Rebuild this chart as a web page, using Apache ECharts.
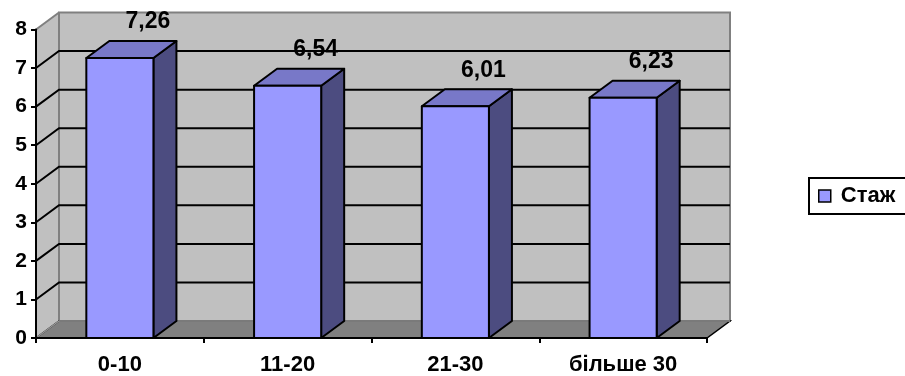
<!DOCTYPE html>
<html>
<head>
<meta charset="utf-8">
<script src="https://cdn.jsdelivr.net/npm/echarts@6/dist/echarts.min.js"></script>
<style>
  html, body { margin: 0; padding: 0; background: #ffffff; }
  #chart { width: 905px; height: 376px; }
</style>
</head>
<body>
<div id="chart"></div>
<script>
// Стаж роботи: групи та середні значення
const categories = ['0-10', '11-20', '21-30', 'більше 30'];
const stazh = [7.26, 6.54, 6.01, 6.23];
const valueLabels = ['7,26', '6,54', '6,01', '6,23'];
const yTicks = [0, 1, 2, 3, 4, 5, 6, 7, 8];
const seriesName = 'Стаж';

// depth of the 3D box (pixels to the right / up)
const DX = 23, DY = -17;
const FONT = '"Liberation Sans", Arial, sans-serif';

const chart = echarts.init(document.getElementById('chart'), null, { renderer: 'canvas' });

function renderWalls(params, api) {
  const cs = params.coordSys;
  const left = cs.x, right = cs.x + cs.width;
  const bottom = cs.y + cs.height, top = cs.y;
  const children = [];
  // left side wall
  children.push({
    type: 'polygon',
    shape: { points: [[left, top], [left + DX, top + DY], [left + DX, bottom + DY], [left, bottom]] },
    style: { fill: '#C0C0C0', stroke: null }
  });
  // back wall
  children.push({
    type: 'rect',
    shape: { x: left + DX, y: top + DY, width: cs.width, height: cs.height },
    style: { fill: '#C0C0C0', stroke: '#808080', lineWidth: 2 }
  });
  // floor
  children.push({
    type: 'polygon',
    shape: { points: [[left, bottom], [right, bottom], [right + DX, bottom + DY], [left + DX, bottom + DY]] },
    style: { fill: '#808080', stroke: '#000000', lineWidth: 1.5 }
  });
  // left wall top edge
  children.push({
    type: 'line',
    shape: { x1: left, y1: top, x2: left + DX, y2: top + DY },
    style: { stroke: '#808080', lineWidth: 2 }
  });
  // floor back and side edges
  children.push({
    type: 'line',
    shape: { x1: left + DX, y1: bottom + DY, x2: right + DX, y2: bottom + DY },
    style: { stroke: '#999999', lineWidth: 1.5 }
  });
  children.push({
    type: 'line',
    shape: { x1: left, y1: bottom, x2: left + DX, y2: bottom + DY },
    style: { stroke: '#999999', lineWidth: 1.5 }
  });
  // gridlines on the side and back walls
  yTicks.forEach(function (v) {
    if (v === yTicks[0] || v === yTicks[yTicks.length - 1]) return;
    const y = api.coord([0, v])[1];
    children.push({
      type: 'polyline',
      shape: { points: [[left, y], [left + DX, y + DY], [right + DX, y + DY]] },
      style: { stroke: '#000000', lineWidth: 2, fill: null }
    });
  });
  return { type: 'group', children: children };
}

function renderBar(params, api) {
  const idx = api.value(0);
  const v = api.value(1);
  const base = api.coord([idx, 0]);
  const topPt = api.coord([idx, v]);
  const bw = api.size([1, 0])[0] * 0.4;
  const x0 = topPt[0] - bw / 2, x1 = topPt[0] + bw / 2;
  const yt = topPt[1], yb = base[1];
  const line = { stroke: '#000000', lineWidth: 2, lineJoin: 'round' };
  return {
    type: 'group',
    children: [
      {
        type: 'polygon',
        shape: { points: [[x1, yt], [x1 + DX, yt + DY], [x1 + DX, yb + DY], [x1, yb]] },
        style: Object.assign({ fill: '#4C4C80' }, line)
      },
      {
        type: 'polygon',
        shape: { points: [[x0, yt], [x0 + DX, yt + DY], [x1 + DX, yt + DY], [x1, yt]] },
        style: Object.assign({ fill: '#7878C8' }, line)
      },
      {
        type: 'rect',
        shape: { x: x0, y: yt, width: bw, height: yb - yt },
        style: Object.assign({ fill: '#9999FF' }, line)
      },
      {
        type: 'text',
        style: {
          x: topPt[0] + DX + 5,
          y: yt + DY - 19,
          text: valueLabels[params.dataIndex],
          fill: '#000000',
          font: 'bold 23px ' + FONT,
          align: 'center',
          verticalAlign: 'middle'
        }
      }
    ]
  };
}

chart.setOption({
  animation: false,
  backgroundColor: '#ffffff',
  grid: { left: 36, right: 198, top: 29.5, bottom: 37, containLabel: false },
  legend: {
    data: [{ name: seriesName, icon: 'rect' }],
    left: 809,
    top: 178,
    orient: 'vertical',
    padding: [7, 40, 7, 9],
    borderColor: '#000000',
    borderWidth: 2,
    itemWidth: 12,
    itemHeight: 12,
    itemStyle: { color: '#9999FF', borderColor: '#000000', borderWidth: 1.5 },
    textStyle: { fontFamily: FONT, fontWeight: 'bold', fontSize: 22, color: '#000000', padding: [0, 0, 0, 5] }
  },
  xAxis: {
    type: 'category',
    data: categories,
    z: 5,
    axisLine: { show: true, lineStyle: { color: '#000000', width: 2 } },
    axisTick: { show: true, length: 5, lineStyle: { color: '#000000', width: 2 } },
    axisLabel: { fontFamily: FONT, fontWeight: 'bold', fontSize: 22, color: '#000000', margin: 16 },
    splitLine: { show: false }
  },
  yAxis: {
    type: 'value',
    min: 0,
    max: 8,
    interval: 1,
    z: 5,
    axisLine: { show: true, lineStyle: { color: '#000000', width: 2 } },
    axisTick: { show: true, length: 5, lineStyle: { color: '#000000', width: 2 } },
    axisLabel: { fontFamily: FONT, fontWeight: 'bold', fontSize: 21, color: '#000000', margin: 9 },
    splitLine: { show: false }
  },
  series: [
    {
      name: 'walls',
      type: 'custom',
      renderItem: renderWalls,
      data: [[0, 0]],
      silent: true,
      z: 1
    },
    {
      name: seriesName,
      type: 'custom',
      renderItem: renderBar,
      itemStyle: { color: '#9999FF', borderColor: '#000000', borderWidth: 1.5 },
      encode: { x: 0, y: 1 },
      data: stazh.map(function (v, i) { return [i, v]; }),
      z: 2
    }
  ]
});
</script>
</body>
</html>
